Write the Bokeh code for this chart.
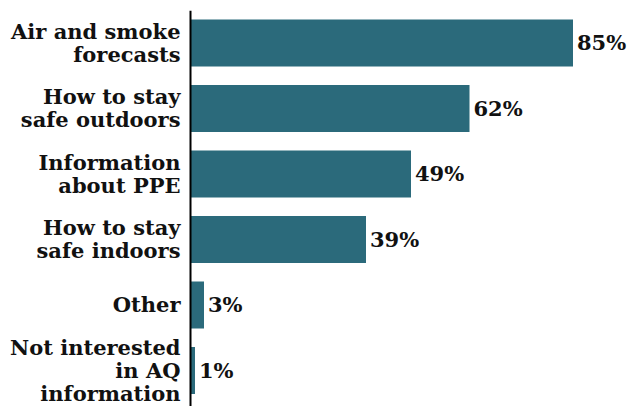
from bokeh.plotting import figure
from bokeh.models import Range1d, Span, ColumnDataSource
from bokeh.core.properties import value
from bokeh.embed import file_html
from bokeh.resources import INLINE

categories = ["Air and smoke\nforecasts", "How to stay\nsafe outdoors", "Information\nabout PPE",
              "How to stay\nsafe indoors", "Other", "Not interested\nin AQ\ninformation"]
values = [85, 62, 49, 39, 3, 1]
value_labels = [f"{v}%" for v in values]
positions = list(range(len(categories)))

src = ColumnDataSource(dict(y=positions, v=values, cat=categories, lab=value_labels,
                            zero=[0] * len(values)))

p = figure(width=637, height=406, output_backend="svg", toolbar_location=None,
           x_axis_type=None, y_axis_type=None,
           x_range=Range1d(-190 / 4.5, 447 / 4.5),
           y_range=Range1d(5.55, -0.496),
           min_border_left=0, min_border_right=0, min_border_top=10, min_border_bottom=0)
p.outline_line_color = None
p.grid.visible = False
p.background_fill_color = "white"
p.border_fill_color = "white"

p.hbar(y="y", left=0, right="v", height=0.718, source=src,
       fill_color="#2b6a7b", line_color=None)

p.add_layout(Span(location=0, dimension="height", line_color="black", line_width=2))

font = value("DejaVu Serif")
p.text(x="zero", y="y", text="cat", source=src, text_align="right", text_baseline="middle",
       x_offset=-10, text_font=font, text_font_style="bold", text_font_size="21px",
       text_line_height=0.92, text_color="#111111")
p.text(x="v", y="y", text="lab", source=src, text_align="left", text_baseline="middle",
       x_offset=4, text_font=font, text_font_style="bold", text_font_size="21px",
       text_color="#111111")

open("out.html", "w").write(file_html(p, INLINE))
